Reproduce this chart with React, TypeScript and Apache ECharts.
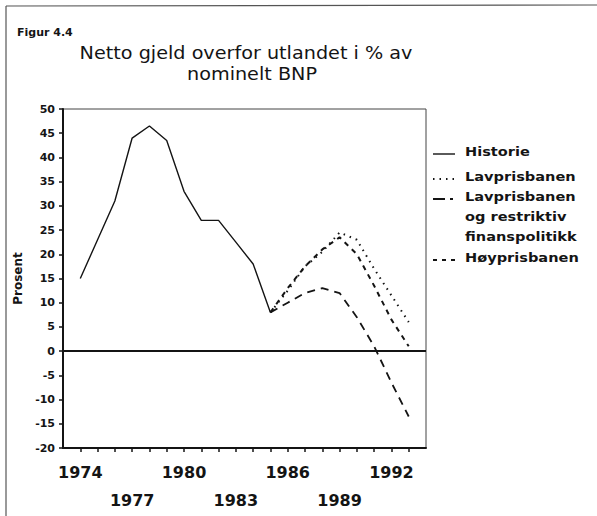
import React, { useEffect, useRef } from "react";
import * as echarts from "echarts";

// Historical data
const histYears = [1974, 1975, 1976, 1977, 1978, 1979, 1980, 1981, 1982, 1983, 1984, 1985];
const historie = [15, 23, 31, 44, 46.5, 43.5, 33, 27, 27, 22.5, 18, 8];

// Projections
const prognoseYears = [1985, 1986, 1987, 1988, 1989, 1990, 1991, 1992, 1993];
const lavprisbanen = [8, 12.5, 17.5, 20.5, 24.5, 23, 17, 11.5, 6];
const lavprisRestriktiv = [8, 10, 12, 13, 12, 7, 1, -6.5, -13.5];
const hoyprisbanen = [8, 13, 17.5, 21, 23.5, 20, 13.5, 6.5, 1];

// Axis labels
const labelRow1 = [1974, 1980, 1986, 1992];
const labelRow2 = [1977, 1983, 1989];

const seriesNames = ["Historie", "Lavprisbanen", "Lavprisbanen og restriktiv finanspolitikk", "Høyprisbanen"];

const FONT = '"DejaVu Sans", sans-serif';
const INK = "#141414";

export default function App() {
  const ref = useRef<HTMLDivElement>(null);

  useEffect(() => {
    if (!ref.current) return;
    const chart = echarts.init(ref.current, undefined, { renderer: "svg" });

    const pair = (xs: number[], ys: number[]) => xs.map((x, i) => [x, ys[i]]);

    const legendX1 = 433;
    const legendX2 = 455;
    const textX = 465;
    const legendFont = `bold 13px ${FONT}`;
    const legendItems = [
      { y: 151, lines: ["Historie"], dash: null as number[] | null, w: 1.4 },
      { y: 176, lines: ["Lavprisbanen"], dash: [1.5, 5], w: 2 },
      { y: 196, lines: ["Lavprisbanen", "og restriktiv", "finanspolitikk"], dash: [12, 5, 3, 5], w: 1.8 },
      { y: 257, lines: ["Høyprisbanen"], dash: [4, 5], w: 2 },
    ];
    const legendGraphics: any[] = [];
    legendItems.forEach((it) => {
      legendGraphics.push({
        type: "line",
        silent: true,
        shape: { x1: legendX1, y1: it.y + 3, x2: legendX2, y2: it.y + 3 },
        style: { stroke: INK, lineWidth: it.w, lineDash: it.dash || undefined },
      });
      it.lines.forEach((t, j) => {
        legendGraphics.push({
          type: "text",
          silent: true,
          x: textX,
          y: it.y + j * 20,
          scaleX: 1.12,
          style: { text: t, font: legendFont, fill: INK, verticalAlign: "middle", align: "left" },
        });
      });
    });

    chart.setOption({
      animation: false,
      backgroundColor: "#ffffff",
      grid: {
        left: 63,
        top: 109,
        width: 363,
        height: 339,
        show: true,
        borderColor: "#444",
        borderWidth: 1,
      },
      xAxis: {
        type: "value",
        min: 1973,
        max: 1994,
        interval: 1,
        splitLine: { show: false },
        axisLine: { show: true, onZero: false, lineStyle: { color: INK, width: 2 } },
        axisTick: { show: true, length: 4, lineStyle: { color: INK, width: 1.5 } },
        axisLabel: {
          margin: 10,
          color: INK,
          fontFamily: FONT,
          fontWeight: "bold",
          fontSize: 16,
          lineHeight: 28,
          showMinLabel: false,
          showMaxLabel: false,
          formatter: (v: number) => {
            if (labelRow1.includes(v)) return String(v);
            if (labelRow2.includes(v)) return "\n" + v;
            return "";
          },
        },
      },
      yAxis: {
        type: "value",
        min: -20,
        max: 50,
        interval: 5,
        name: "Prosent",
        nameLocation: "middle",
        nameGap: 33,
        nameRotate: 90,
        nameTextStyle: { color: INK, fontFamily: FONT, fontWeight: "bold", fontSize: 12 },
        splitLine: { show: false },
        axisLine: { show: true, onZero: false, lineStyle: { color: INK, width: 2 } },
        axisTick: { show: true, length: 4, lineStyle: { color: INK, width: 1.5 } },
        axisLabel: {
          margin: 8,
          color: INK,
          fontFamily: FONT,
          fontWeight: "bold",
          fontSize: 11,
        },
      },
      series: [
        {
          name: seriesNames[0],
          type: "line",
          data: pair(histYears, historie),
          symbol: "none",
          lineStyle: { color: INK, width: 1.4, type: "solid" },
          markLine: {
            silent: true,
            symbol: "none",
            label: { show: false },
            lineStyle: { color: INK, width: 1.8, type: "solid" },
            data: [{ yAxis: 0 }],
          },
        },
        {
          name: seriesNames[1],
          type: "line",
          data: pair(prognoseYears, lavprisbanen),
          symbol: "none",
          lineStyle: { color: INK, width: 2, type: [1.5, 5] },
        },
        {
          name: seriesNames[2],
          type: "line",
          data: pair(prognoseYears, lavprisRestriktiv),
          symbol: "none",
          lineStyle: { color: INK, width: 1.8, type: [8, 6] },
        },
        {
          name: seriesNames[3],
          type: "line",
          data: pair(prognoseYears, hoyprisbanen),
          symbol: "none",
          lineStyle: { color: INK, width: 2, type: [5, 5] },
        },
      ],
      graphic: [
        {
          type: "line",
          silent: true,
          shape: { x1: 6, y1: 6, x2: 597, y2: 5 },
          style: { stroke: "#555", lineWidth: 1.2 },
        },
        {
          type: "line",
          silent: true,
          shape: { x1: 6, y1: 6, x2: 6, y2: 516 },
          style: { stroke: "#555", lineWidth: 1.2 },
        },
        {
          type: "text",
          silent: true,
          x: 17,
          y: 32,
          style: { text: "Figur 4.4", font: `bold 11px ${FONT}`, fill: INK, verticalAlign: "middle" },
        },
        {
          type: "text",
          silent: true,
          x: 246,
          y: 53,
          scaleX: 1.13,
          style: {
            text: "Netto gjeld overfor utlandet i % av",
            font: `17px ${FONT}`,
            fill: INK,
            align: "center",
            verticalAlign: "middle",
          },
        },
        {
          type: "text",
          silent: true,
          x: 252,
          y: 74,
          scaleX: 1.13,
          style: {
            text: "nominelt BNP",
            font: `17px ${FONT}`,
            fill: INK,
            align: "center",
            verticalAlign: "middle",
          },
        },
        ...legendGraphics,
      ],
    });

    return () => chart.dispose();
  }, []);

  return (
    <div
      ref={ref}
      style={{ position: "fixed", left: 0, top: 0, width: 597, height: 516, background: "#fff" }}
    />
  );
}
